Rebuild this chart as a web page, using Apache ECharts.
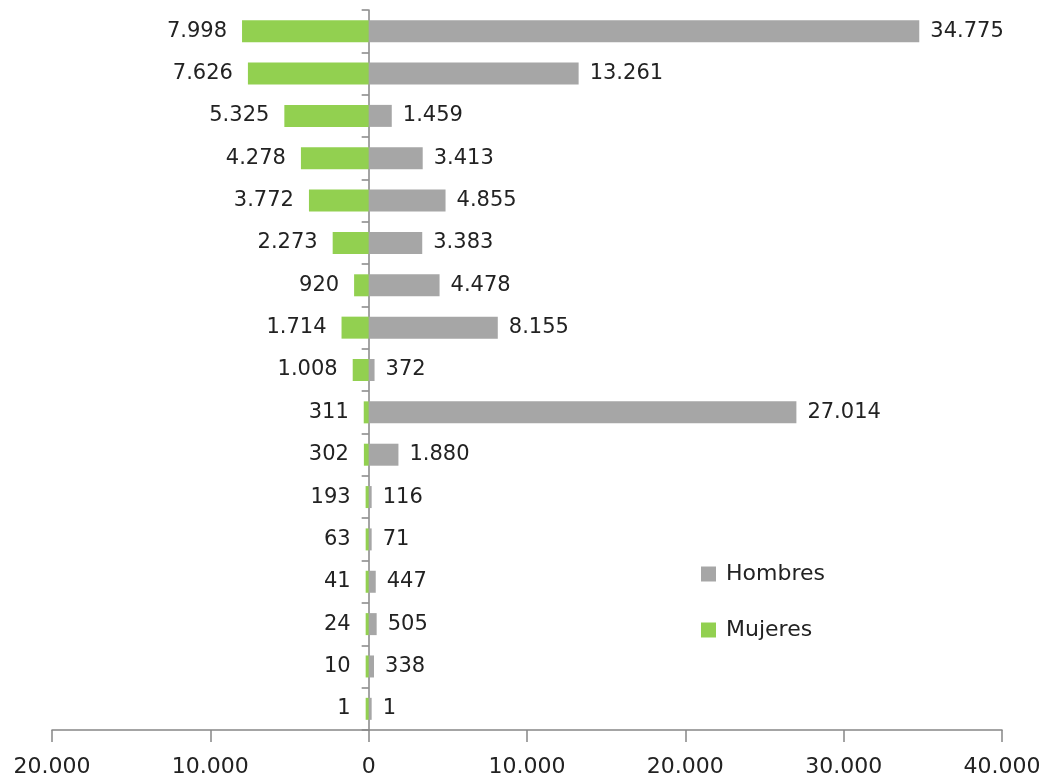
<!DOCTYPE html>
<html>
<head>
<meta charset="utf-8">
<script src="https://cdn.jsdelivr.net/npm/echarts@6/dist/echarts.min.js"></script>
<style>html,body{margin:0;padding:0;background:#fff}#chart{width:1060px;height:782px}</style>
</head>
<body>
<div id="chart"></div>
<script>
var categories = ['1','2','3','4','5','6','7','8','9','10','11','12','13','14','15','16','17'];
var hombres = [34775, 13261, 1459, 3413, 4855, 3383, 4478, 8155, 372, 27014, 1880, 116, 71, 447, 505, 338, 1];
var mujeres = [7998, 7626, 5325, 4278, 3772, 2273, 920, 1714, 1008, 311, 302, 193, 63, 41, 24, 10, 1];
var xTicks = { min: -20000, max: 40000, interval: 10000 };

function fmt(v) {
  return Math.abs(v).toString().replace(/\B(?=(\d{3})+(?!\d))/g, '.');
}

var chart = echarts.init(document.getElementById('chart'));
chart.setOption({
  animation: false,
  backgroundColor: '#fff',
  textStyle: { fontFamily: 'DejaVu Sans' },
  grid: { left: 52, right: 58, top: 10, bottom: 52, containLabel: false },
  legend: {
    orient: 'vertical',
    left: 696,
    top: 558,
    itemWidth: 15,
    itemHeight: 15,
    itemGap: 34,
    icon: 'rect',
    data: ['Hombres', 'Mujeres'],
    textStyle: { fontSize: 22, color: '#222', fontFamily: 'DejaVu Sans', padding: [0, 0, 0, 5] }
  },
  xAxis: {
    type: 'value',
    min: xTicks.min,
    max: xTicks.max,
    interval: xTicks.interval,
    splitLine: { show: false },
    axisLine: { show: true, lineStyle: { color: '#868686', width: 1.5 } },
    axisTick: { show: true, length: 12, lineStyle: { color: '#868686', width: 1.5 } },
    axisLabel: { fontSize: 22, color: '#222', margin: 26, formatter: fmt, fontFamily: 'DejaVu Sans' }
  },
  yAxis: {
    type: 'category',
    inverse: true,
    data: categories,
    axisLine: { show: true, onZero: true, lineStyle: { color: '#868686', width: 1.5 } },
    axisTick: { show: true, length: 7, lineStyle: { color: '#868686', width: 1.5 } },
    axisLabel: { show: false },
    splitLine: { show: false }
  },
  series: [
    {
      name: 'Hombres',
      type: 'bar',
      stack: 'total',
      barWidth: 22,
      barMinHeight: 3,
      itemStyle: { color: '#a6a6a6' },
      label: { show: true, position: 'right', distance: 11, fontSize: 21, color: '#222', formatter: function (p) { return fmt(p.value); } },
      data: hombres
    },
    {
      name: 'Mujeres',
      type: 'bar',
      stack: 'total',
      barWidth: 22,
      barMinHeight: 3,
      itemStyle: { color: '#92d050' },
      label: { show: true, position: 'left', distance: 15, fontSize: 21, color: '#222', formatter: function (p) { return fmt(p.value); } },
      data: mujeres.map(function (v) { return -v; })
    }
  ]
});
</script>
</body>
</html>
